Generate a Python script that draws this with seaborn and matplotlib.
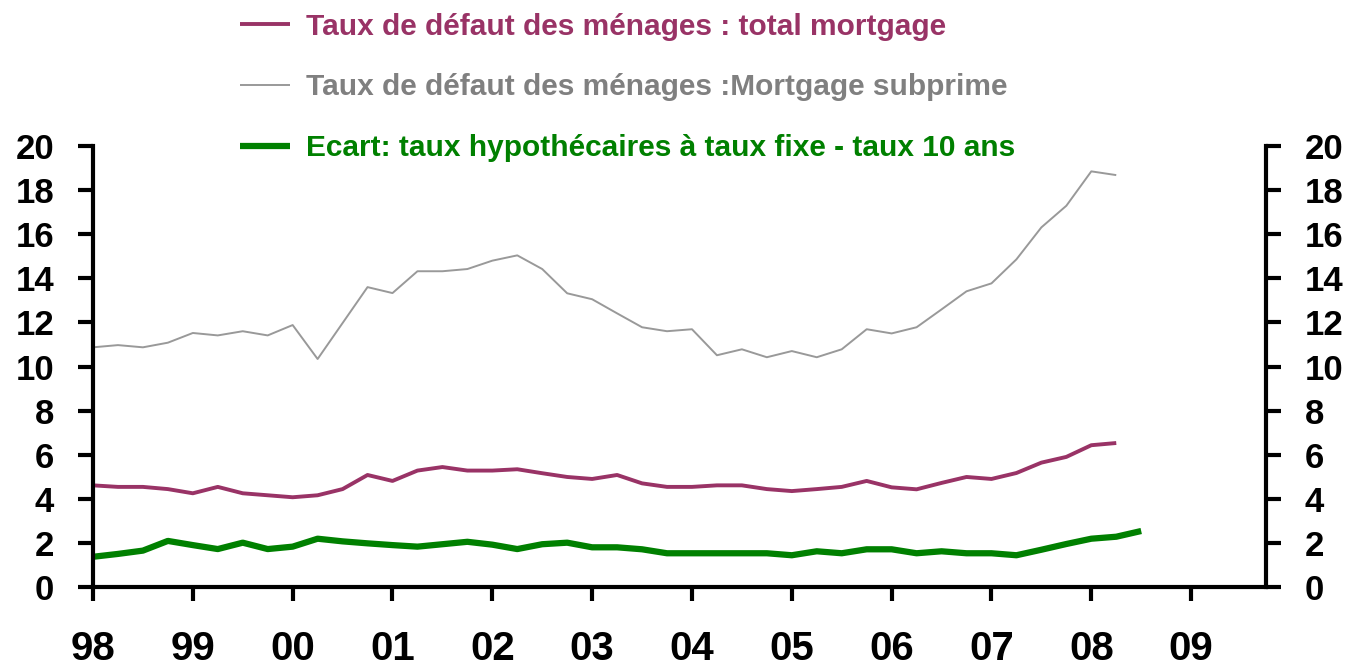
import numpy as np
import pandas as pd
import matplotlib
matplotlib.use("Agg")
import matplotlib.pyplot as plt
import seaborn as sns

# ---- data (quarterly, starting 1998 Q1) ----
start_year = 1998
total_mortgage = [4.61, 4.54, 4.54, 4.44, 4.25, 4.54, 4.25, 4.16, 4.07, 4.16, 4.44, 5.08,
                  4.81, 5.28, 5.44, 5.28, 5.28, 5.34, 5.16, 4.99, 4.90, 5.08, 4.70, 4.54,
                  4.54, 4.61, 4.61, 4.44, 4.35, 4.44, 4.54, 4.81, 4.52, 4.43, 4.72, 4.99,
                  4.90, 5.17, 5.64, 5.90, 6.43, 6.53]
subprime = [10.87, 10.97, 10.87, 11.08, 11.52, 11.41, 11.60, 11.41, 11.88, 10.34, 11.97, 13.60,
            13.33, 14.32, 14.32, 14.42, 14.80, 15.04, 14.42, 13.32, 13.05, 12.41, 11.78, 11.60,
            11.69, 10.51, 10.78, 10.42, 10.70, 10.42, 10.78, 11.69, 11.50, 11.78, 12.59, 13.41,
            13.77, 14.86, 16.31, 17.29, 18.85, 18.68]
ecart = [1.37, 1.50, 1.65, 2.09, 1.90, 1.72, 2.01, 1.72, 1.83, 2.19, 2.07, 1.98,
         1.90, 1.83, 1.94, 2.05, 1.92, 1.72, 1.94, 2.01, 1.80, 1.80, 1.71, 1.53,
         1.53, 1.53, 1.53, 1.53, 1.44, 1.62, 1.53, 1.71, 1.71, 1.53, 1.62, 1.53,
         1.53, 1.44, 1.69, 1.95, 2.19, 2.28, 2.54]
labels = ["Taux de défaut des ménages : total mortgage",
          "Taux de défaut des ménages :Mortgage subprime",
          "Ecart: taux hypothécaires à taux fixe - taux 10 ans"]
year_ticks = list(range(1998, 2010))
year_labels = ["98", "99", "00", "01", "02", "03", "04", "05", "06", "07", "08", "09"]
y_ticks = [0, 2, 4, 6, 8, 10, 12, 14, 16, 18, 20]

def qdates(n):
    return [start_year + i / 4 for i in range(n)]

df = pd.concat([
    pd.DataFrame({"date": qdates(len(total_mortgage)), "value": total_mortgage, "serie": labels[0]}),
    pd.DataFrame({"date": qdates(len(subprime)), "value": subprime, "serie": labels[1]}),
    pd.DataFrame({"date": qdates(len(ecart)), "value": ecart, "serie": labels[2]}),
])

colors = {labels[0]: "#993366", labels[1]: "#999999", labels[2]: "#008000"}
text_colors = {labels[0]: "#993366", labels[1]: "#808080", labels[2]: "#008000"}
widths = {labels[0]: 2.8, labels[1]: 1.4, labels[2]: 4.5}

sns.set_style("white")
plt.rcParams["font.family"] = ["Liberation Sans", "DejaVu Sans"]
plt.rcParams["font.weight"] = "bold"

fig = plt.figure(figsize=(13.54, 6.71), dpi=100)
ax = fig.add_axes([93 / 1354, 1 - 587 / 671, (1266 - 93) / 1354, (587 - 146) / 671])

for lab in labels:
    sns.lineplot(data=df[df["serie"] == lab], x="date", y="value", ax=ax,
                 color=colors[lab], linewidth=widths[lab], label=lab,
                 solid_capstyle="butt")

ax.set_xlim(1998, 2009.75)
ax.set_ylim(0, 20)
ax.set_xlabel("")
ax.set_ylabel("")
ax.set_xticks(year_ticks)
ax.set_xticklabels(year_labels)
ax.set_yticks(y_ticks)
ax.set_yticklabels([str(v) for v in y_ticks])

for s in ["left", "right", "bottom"]:
    ax.spines[s].set_visible(True)
    ax.spines[s].set_color("black")
    ax.spines[s].set_linewidth(3)
ax.spines["top"].set_visible(False)

ax.tick_params(axis="y", direction="out", length=11, width=3, left=True, right=True,
               labelleft=True, labelright=True, labelsize=25, pad=17, colors="black")
ax.tick_params(axis="x", direction="out", length=10, width=3, bottom=True,
               labelsize=29, pad=21, colors="black")
for t in ax.get_xticklabels() + ax.get_yticklabels():
    t.set_fontweight("bold")
for tick in ax.yaxis.get_major_ticks():
    tick.label2.set_fontweight("bold")

ax.get_legend().remove()
handles, labs = ax.get_legend_handles_labels()
leg = fig.legend(handles, labs, loc="upper left", bbox_to_anchor=(222 / 1354, 1.008),
                 frameon=False, fontsize=21.5, handlelength=1.67, handletextpad=0.53,
                 labelspacing=1.1, borderaxespad=0.2)
for txt, lab in zip(leg.get_texts(), labs):
    txt.set_color(text_colors[lab])
    txt.set_fontweight("bold")

fig.savefig("out.png", dpi=100)
